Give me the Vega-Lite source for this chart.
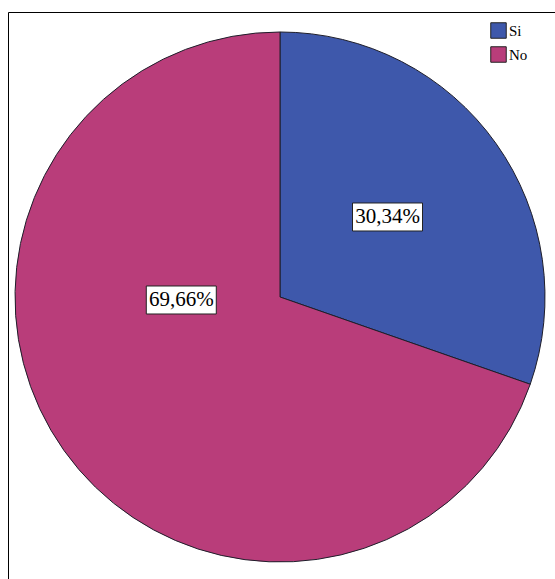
{
  "$schema": "https://vega.github.io/schema/vega-lite/v6.json",
  "width": 560,
  "height": 580,
  "padding": {"left": 8, "top": 12, "right": 0, "bottom": 0},
  "data": {"values": [
    {"answer": "Si", "share": 0.3034},
    {"answer": "No", "share": 0.6966}
  ]},
  "config": {
    "view": {"stroke": "#000000", "strokeWidth": 1},
    "font": "Liberation Serif",
    "locale": {"number": {"decimal": ",", "thousands": ".", "grouping": [3], "currency": ["", " €"]}}
  },
  "layer": [
    {
      "mark": {"type": "arc", "outerRadius": 265, "stroke": "#1e1e2a", "strokeWidth": 1},
      "encoding": {
        "theta": {"field": "share", "type": "quantitative", "stack": true},
        "color": {
          "field": "answer", "type": "nominal", "sort": ["Si", "No"],
          "scale": {"domain": ["Si", "No"], "range": ["#3e58ab", "#b93d7a"]},
          "legend": {
            "title": null, "orient": "none", "legendX": 482, "legendY": 10,
            "symbolType": "square", "symbolSize": 240, "symbolStrokeColor": "#222222",
            "symbolStrokeWidth": 1, "labelFont": "Liberation Serif", "labelFontSize": 15,
            "labelColor": "#000000", "rowPadding": 3, "labelOffset": 2, "padding": 0
          }
        },
        "order": {"field": "share", "sort": "ascending"},
        "x": {"datum": 0, "type": "quantitative", "scale": {"domain": [-1.02642, 1.08679], "nice": false, "zero": false}, "axis": null},
        "y": {"datum": 0, "type": "quantitative", "scale": {"domain": [-1.11321, 1.07547], "nice": false, "zero": false}, "axis": null}
      }
    },
    {
      "transform": [{"filter": "datum.answer === 'Si'"}],
      "mark": {"type": "point", "shape": "M-1,-0.4H1V0.4H-1Z", "size": 4900, "filled": true, "fill": "#ffffff", "stroke": "#222222", "strokeWidth": 1, "opacity": 1},
      "encoding": {
        "x": {"datum": 0.4057, "type": "quantitative"},
        "y": {"datum": 0.3019, "type": "quantitative"}
      }
    },
    {
      "transform": [{"filter": "datum.answer === 'Si'"}],
      "mark": {"type": "text", "font": "Liberation Serif", "fontSize": 21, "color": "#000000", "align": "center", "baseline": "middle"},
      "encoding": {
        "text": {"field": "share", "type": "quantitative", "format": ".2%"},
        "x": {"datum": 0.4057, "type": "quantitative"},
        "y": {"datum": 0.3019, "type": "quantitative"}
      }
    },
    {
      "transform": [{"filter": "datum.answer === 'No'"}],
      "mark": {"type": "point", "shape": "M-1,-0.4H1V0.4H-1Z", "size": 4900, "filled": true, "fill": "#ffffff", "stroke": "#222222", "strokeWidth": 1, "opacity": 1},
      "encoding": {
        "x": {"datum": -0.3725, "type": "quantitative"},
        "y": {"datum": -0.0113, "type": "quantitative"}
      }
    },
    {
      "transform": [{"filter": "datum.answer === 'No'"}],
      "mark": {"type": "text", "font": "Liberation Serif", "fontSize": 21, "color": "#000000", "align": "center", "baseline": "middle"},
      "encoding": {
        "text": {"field": "share", "type": "quantitative", "format": ".2%"},
        "x": {"datum": -0.3725, "type": "quantitative"},
        "y": {"datum": -0.0113, "type": "quantitative"}
      }
    }
  ]
}
